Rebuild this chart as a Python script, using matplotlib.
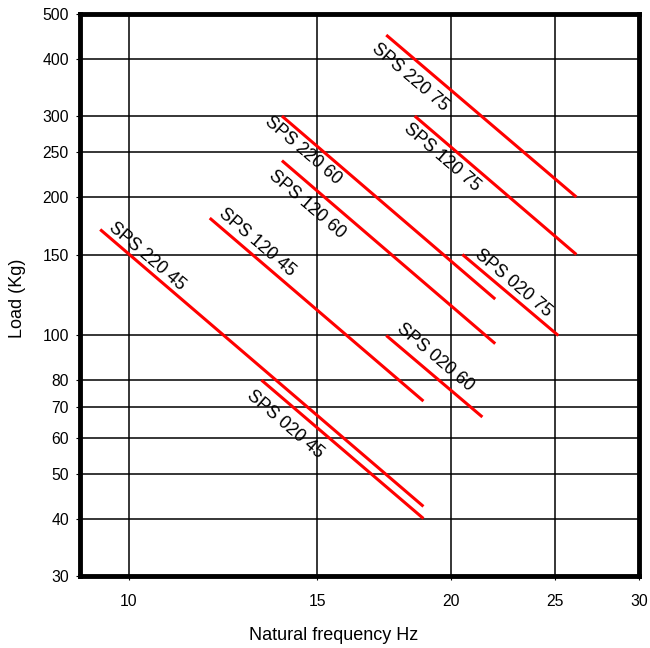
import numpy as np
import matplotlib
matplotlib.use("Agg")
import matplotlib.pyplot as plt
from matplotlib.ticker import FixedLocator, FixedFormatter, NullLocator

# ---- data ----
series = ['SPS 220 45', 'SPS 120 45', 'SPS 020 45',
          'SPS 220 60', 'SPS 120 60', 'SPS 020 60',
          'SPS 220 75', 'SPS 120 75', 'SPS 020 75']
freq_start = [9.4, 11.9, 13.3, 13.9, 13.9, 17.4, 17.4, 18.5, 20.5]
freq_end = [18.85, 18.85, 18.85, 22.0, 22.0, 21.4, 26.2, 26.2, 25.2]
load_start = [170, 180, 80, 300, 240, 100, 450, 300, 150]
load_end = [42.5, 72, 40, 120, 96, 66.5, 200, 150, 100]

x_ticks = [10, 15, 20, 25, 30]
x_tick_labels = ['10', '15', '20', '25', '30']
y_ticks = [30, 40, 50, 60, 70, 80, 100, 150, 200, 250, 300, 400, 500]
y_tick_labels = ['30', '40', '50', '60', '70', '80', '100', '150', '200',
                 '250', '300', '400', '500']

# label anchor points (layout)
label_x = [10.39, 13.17, 13.99, 14.56, 14.66, 19.33, 18.33, 19.60, 22.86]
label_y = [148.8, 159.6, 64.1, 252.5, 192.7, 89.5, 364.7, 244.4, 130.1]

plt.rcParams['font.family'] = ['Liberation Sans', 'DejaVu Sans']

fig = plt.figure(figsize=(6.5, 6.48), dpi=100)
ax = fig.add_axes([80 / 650, 72 / 648, 559.3 / 650, 562 / 648])

ax.set_xscale('log')
ax.set_yscale('log')
ax.set_xlim(9, 30)
ax.set_ylim(30, 500)

ax.xaxis.set_major_locator(FixedLocator(x_ticks))
ax.xaxis.set_major_formatter(FixedFormatter(x_tick_labels))
ax.xaxis.set_minor_locator(NullLocator())
ax.yaxis.set_major_locator(FixedLocator(y_ticks))
ax.yaxis.set_major_formatter(FixedFormatter(y_tick_labels))
ax.yaxis.set_minor_locator(NullLocator())

ax.grid(True, which='major', color='black', linewidth=1.1)
ax.set_axisbelow(True)

ax.tick_params(axis='both', direction='out', length=3, width=0.8,
               labelsize=11.3, colors='black')
ax.tick_params(axis='x', pad=10)
ax.tick_params(axis='y', pad=5)

for sp in ax.spines.values():
    sp.set_linewidth(3.5)
    sp.set_color('black')
    sp.set_zorder(5)

for i, name in enumerate(series):
    ax.plot([freq_start[i], freq_end[i]], [load_start[i], load_end[i]],
            color='#ff0000', linewidth=2.2, solid_capstyle='butt', zorder=3)

for i, name in enumerate(series):
    p0 = ax.transData.transform((freq_start[i], load_start[i]))
    p1 = ax.transData.transform((freq_end[i], load_end[i]))
    ang = np.degrees(np.arctan2(p1[1] - p0[1], p1[0] - p0[0]))
    ax.text(label_x[i], label_y[i], name, rotation=ang, rotation_mode='anchor',
            ha='center', va='center', fontsize=12.8, color='black', zorder=4)

ax.set_xlabel('Natural frequency Hz', fontsize=13)
ax.set_ylabel('Load (Kg)', fontsize=13)
ax.xaxis.set_label_coords((334 - 80) / 559.3, (576 - 635) / 562)
ax.yaxis.set_label_coords((17 - 80) / 559.3, (576 - 298) / 562)
ax.xaxis.label.set_va('center')
ax.yaxis.label.set_va('center')

fig.savefig('out.png', dpi=100)
